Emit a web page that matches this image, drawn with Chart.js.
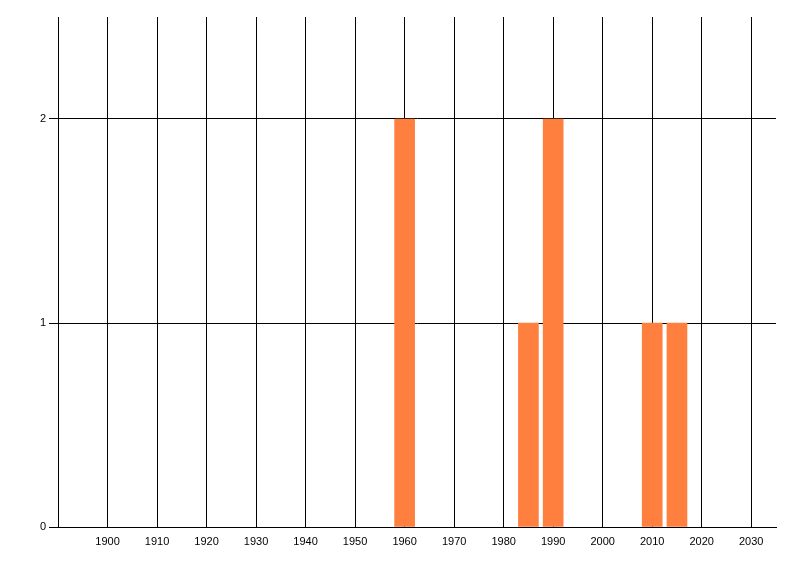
<!DOCTYPE html>
<html>
<head>
    <title>Bars</title>
    <script src="https://cdn.jsdelivr.net/npm/chart.js@4/dist/chart.umd.min.js"></script>
    <style>
        html, body { margin: 0; padding: 0; background: #fff; }
    </style>
</head>
<body>
    <canvas id="myChart" width="800" height="576"></canvas>

    <script>
        // values
        var years = [1960, 1985, 1990, 2010, 2015];
        var counts = [2, 1, 2, 1, 1];
        var xTickValues = [1900, 1910, 1920, 1930, 1940, 1950, 1960, 1970, 1980, 1990, 2000, 2010, 2020, 2030];
        var yTickValues = [0, 1, 2];

        var points = years.map(function (y, i) { return { x: y, y: counts[i] }; });
        var tickFont = { family: 'Liberation Sans', size: 11 };

        var ctx = document.getElementById('myChart').getContext('2d');
        var chart = new Chart(ctx, {
            type: 'bar',
            data: {
                datasets: [{
                    data: points,
                    backgroundColor: '#ff7f3f',
                    borderWidth: 0,
                    barThickness: 20
                }]
            },
            options: {
                responsive: false,
                animation: false,
                layout: { padding: { top: 17, right: 24, left: 0, bottom: 0 } },
                plugins: { legend: { display: false }, tooltip: { enabled: false } },
                scales: {
                    x: {
                        type: 'linear',
                        min: 1890,
                        max: 2035,
                        offset: false,
                        afterBuildTicks: function (scale) {
                            scale.ticks = xTickValues.map(function (v) { return { value: v }; });
                        },
                        afterFit: function (scale) { scale.height = 49; },
                        grid: { color: '#000', lineWidth: 1, drawTicks: false, offset: false },
                        border: { color: '#000', width: 1 },
                        ticks: {
                            color: '#000', font: tickFont, padding: 8, maxRotation: 0,
                            callback: function (v) { return String(v); }
                        }
                    },
                    y: {
                        min: 0,
                        max: 2.5,
                        afterBuildTicks: function (scale) {
                            scale.ticks = yTickValues.map(function (v) { return { value: v }; });
                        },
                        afterFit: function (scale) { scale.width = 58; },
                        grid: { color: '#000', lineWidth: 1, drawTicks: true, tickLength: 9 },
                        border: { color: '#000', width: 1 },
                        ticks: { color: '#000', font: tickFont, padding: 3 }
                    }
                }
            }
        });
    </script>
</body>
</html>
